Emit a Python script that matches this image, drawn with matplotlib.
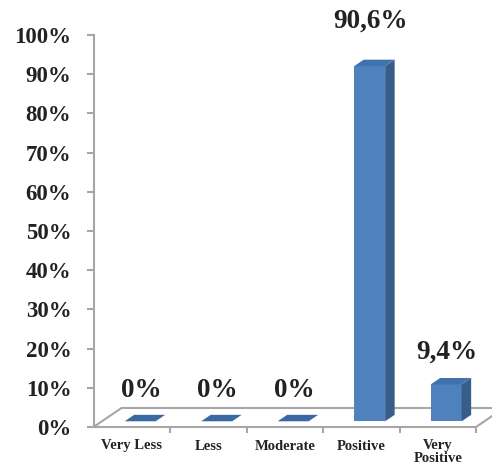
import matplotlib.pyplot as plt
from matplotlib.patches import Polygon

categories = ['Very Less', 'Less', 'Moderate', 'Positive', 'Very\nPositive']
values = [0, 0, 0, 90.6, 9.4]
value_labels = ['0%', '0%', '0%', '90,6%', '9,4%']
yticks = list(range(0, 101, 10))

plt.rcParams['font.family'] = ['Liberation Serif', 'DejaVu Serif']

fig = plt.figure(figsize=(4.92, 4.72), dpi=100)
ax = fig.add_axes([93.5 / 492, 45 / 472, 382.5 / 492, 392 / 472])
ax.set_xlim(-0.5, 4.5)
ax.set_ylim(0, 100)

# depth of the 3d floor (in category / percent units)
DX, DY = 0.366, 4.85
grey = '#a6a6a6'

floor = Polygon([(-0.5, 0), (4.5, 0), (4.5 + DX, DY), (-0.5 + DX, DY)],
                closed=True, facecolor='white', edgecolor=grey, lw=1.5,
                clip_on=False, zorder=1)
ax.add_patch(floor)

front_col = '#4f81bd'
side_col = '#385d8a'
top_col = '#4172ad'
w = 0.405
f0, f1 = 0.30, 0.64
for i, v in enumerate(values):
    xl = i - w / 2 + f0 * DX
    yb = f0 * DY
    ddx, ddy = (f1 - f0) * DX, (f1 - f0) * DY
    if v > 0:
        ax.add_patch(Polygon([(xl, yb), (xl + w, yb), (xl + w, yb + v), (xl, yb + v)],
                             facecolor=front_col, edgecolor='none', zorder=3, clip_on=False))
        ax.add_patch(Polygon([(xl + w, yb), (xl + w + ddx, yb + ddy),
                              (xl + w + ddx, yb + ddy + v), (xl + w, yb + v)],
                             facecolor=side_col, edgecolor='none', zorder=3, clip_on=False))
    ax.add_patch(Polygon([(xl, yb + v), (xl + w, yb + v),
                          (xl + w + ddx, yb + v + ddy), (xl + ddx, yb + v + ddy)],
                         facecolor=top_col if v > 0 else '#3a68a3', edgecolor='none',
                         zorder=3, clip_on=False))
    ax.text(i + 0.5 * (f0 + f1) * DX - 0.05, v * 1.04 + 6.1, value_labels[i],
            ha='center', va='bottom', fontsize=19.5, fontweight='bold',
            color='#222222', clip_on=False)

for s in ['top', 'right', 'bottom']:
    ax.spines[s].set_visible(False)
ax.spines['left'].set_color(grey)
ax.spines['left'].set_linewidth(1.5)

ax.set_yticks(yticks)
ax.set_yticklabels([f'{t}%' for t in yticks], fontsize=16.5, fontweight='bold', color='#222222')
ax.tick_params(axis='y', length=5, width=1.5, color=grey, pad=11)

ax.set_xticks(range(len(categories)))
ax.set_xticklabels(categories, fontsize=10.5, fontweight='bold', color='#222222',
                   linespacing=0.95)
ax.tick_params(axis='x', which='major', length=0, pad=9)
ax.set_xticks([0.5, 1.5, 2.5, 3.5, 4.5], minor=True)
ax.tick_params(axis='x', which='minor', length=4, width=1.5, color=grey)
ax.patch.set_alpha(0)

fig.savefig('out.png', dpi=100)
